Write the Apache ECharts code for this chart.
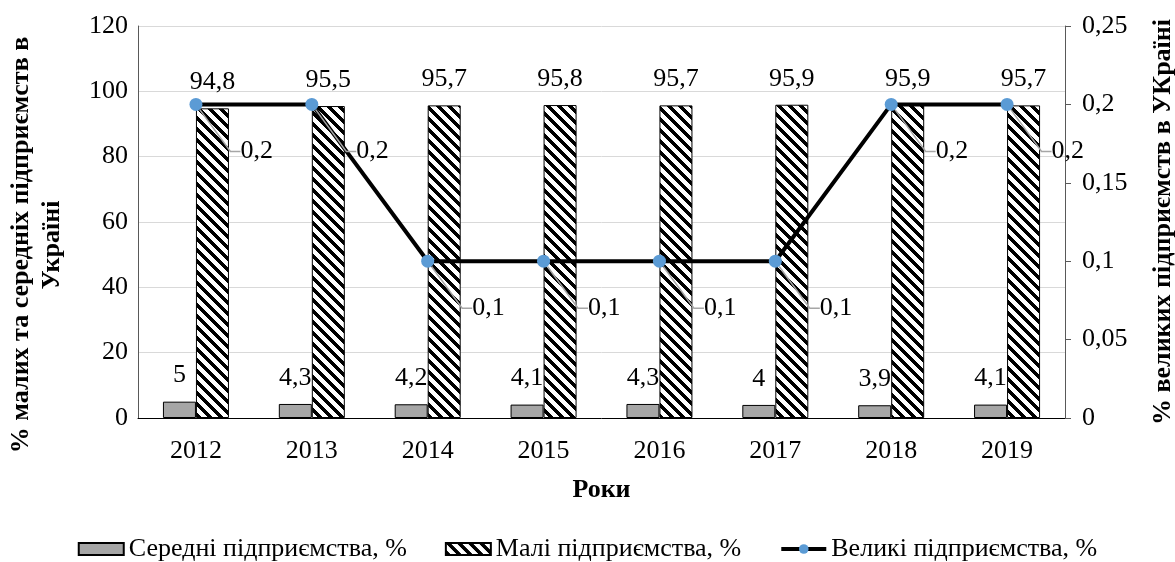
<!DOCTYPE html>
<html>
<head>
<meta charset="utf-8">
<script src="https://cdn.jsdelivr.net/npm/echarts@6/dist/echarts.min.js"></script>
<style>
html,body{margin:0;padding:0;background:#fff;}
#chart{width:1175px;height:562px;}
</style>
</head>
<body>
<div id="chart"></div>
<script>
const years = ['2012','2013','2014','2015','2016','2017','2018','2019'];
const mediumValues = [5, 4.3, 4.2, 4.1, 4.3, 4, 3.9, 4.1];
const smallValues = [94.8, 95.5, 95.7, 95.8, 95.7, 95.9, 95.9, 95.7];
const largeValues = [0.2, 0.2, 0.1, 0.1, 0.1, 0.1, 0.2, 0.2];
const seriesNames = ['Середні підприємства, %', 'Малі підприємства, %', 'Великі підприємства, %'];
const leftAxisTitle = '% малих та середніх підприємств в\nУкраїні';
const rightAxisTitle = '% великих підприємств в УКраїні';
const xAxisTitle = 'Роки';

function fmt(v){
  const r = Math.round(v*1000)/1000;
  return String(r).replace('.', ',');
}

// hatch pattern
const pc = document.createElement('canvas');
const P = 11;
pc.width = P; pc.height = P;
const pctx = pc.getContext('2d');
const img = pctx.createImageData(P, P);
for (let y = 0; y < P; y++) {
  for (let x = 0; x < P; x++) {
    const d = (((x - y) % P) + P) % P;
    const black = d < 5;
    const i = (y*P + x)*4;
    const c = black ? 0 : 255;
    img.data[i] = c; img.data[i+1] = c; img.data[i+2] = c; img.data[i+3] = 255;
  }
}
pctx.putImageData(img, 0, 0);

const FONT = '"Liberation Serif", "Times New Roman", serif';
const FS = 26;
const chart = echarts.init(document.getElementById('chart'), null, {renderer:'canvas'});
chart.setOption({
  animation: false,
  textStyle: {fontFamily: FONT, color: '#000'},
  grid: {left: 138, right: 110, top: 26, bottom: 144, containLabel: false, outerBoundsMode: 'none'},
  legend: {
    bottom: 0,
    left: 'center',
    padding: [5, 5, 0, 5],
    itemWidth: 45,
    itemHeight: 12,
    itemGap: 38,
    textStyle: {fontFamily: FONT, fontSize: 26, color: '#000'},
    data: [
      {name: seriesNames[0], icon: 'rect'},
      {name: seriesNames[1], icon: 'rect'},
      {name: seriesNames[2], lineStyle: {width: 4, color: '#000'}, itemStyle: {color: '#5b9bd5'}}
    ]
  },
  xAxis: {
    type: 'category',
    data: years,
    axisTick: {show: false},
    axisLine: {lineStyle: {color: '#000', width: 1}},
    axisLabel: {fontFamily: FONT, fontSize: FS, color: '#000', margin: 20},
    name: xAxisTitle,
    nameLocation: 'middle',
    nameGap: 59,
    nameTextStyle: {fontFamily: FONT, fontSize: FS, fontWeight: 'bold', color: '#000'}
  },
  yAxis: [{
    type: 'value',
    min: 0, max: 120, interval: 20,
    axisLine: {show: true, lineStyle: {color: '#595959'}},
    axisTick: {show: false},
    splitLine: {lineStyle: {color: '#d9d9d9', width: 1}},
    axisLabel: {fontFamily: FONT, fontSize: FS, color: '#000', margin: 10},
    name: leftAxisTitle,
    nameLocation: 'middle',
    nameRotate: 90,
    nameGap: 70,
    nameTextStyle: {fontFamily: FONT, fontSize: FS, fontWeight: 'bold', color: '#000', lineHeight: 31, align: 'center', padding: [0, 46, 0, 0]}
  },{
    type: 'value',
    min: 0, max: 0.25, interval: 0.05,
    position: 'right',
    axisLine: {show: true, lineStyle: {color: '#595959'}},
    axisTick: {show: true, length: 6, lineStyle: {color: '#595959'}},
    splitLine: {show: false},
    axisLabel: {fontFamily: FONT, fontSize: FS, color: '#000', margin: 17, formatter: fmt},
    name: rightAxisTitle,
    nameLocation: 'middle',
    nameRotate: 90,
    nameGap: 85,
    nameTextStyle: {fontFamily: FONT, fontSize: FS, fontWeight: 'bold', color: '#000'}
  }],
  series: [{
    name: seriesNames[0],
    type: 'bar',
    data: mediumValues,
    barWidth: 33,
    barGap: '0%',
    itemStyle: {color: '#a6a6a6', borderColor: '#000', borderWidth: 1},
    label: {show: true, position: 'top', distance: 13, fontFamily: FONT, fontSize: FS, color: '#000', formatter: p => fmt(p.value)}
  },{
    name: seriesNames[1],
    type: 'bar',
    data: smallValues,
    barWidth: 33,
    barGap: '0%',
    itemStyle: {color: {image: pc, repeat: 'repeat'}, borderColor: '#000', borderWidth: 1},
    label: {show: true, position: 'top', distance: 13, fontFamily: FONT, fontSize: FS, color: '#000', formatter: p => fmt(p.value)}
  },{
    name: seriesNames[2],
    type: 'line',
    yAxisIndex: 1,
    data: largeValues,
    symbol: 'circle',
    symbolSize: 13,
    lineStyle: {color: '#000', width: 4},
    itemStyle: {color: '#5b9bd5', borderWidth: 0},
    label: {show: true, position: 'right', distance: 4, fontFamily: FONT, fontSize: FS, color: '#000', formatter: p => fmt(p.value)},
    labelLayout: {dx: 34, dy: 47},
    labelLine: {show: true, length2: 10, lineStyle: {color: '#a6a6a6', width: 1.5}},
    z: 5
  }]
});
</script>
</body>
</html>
